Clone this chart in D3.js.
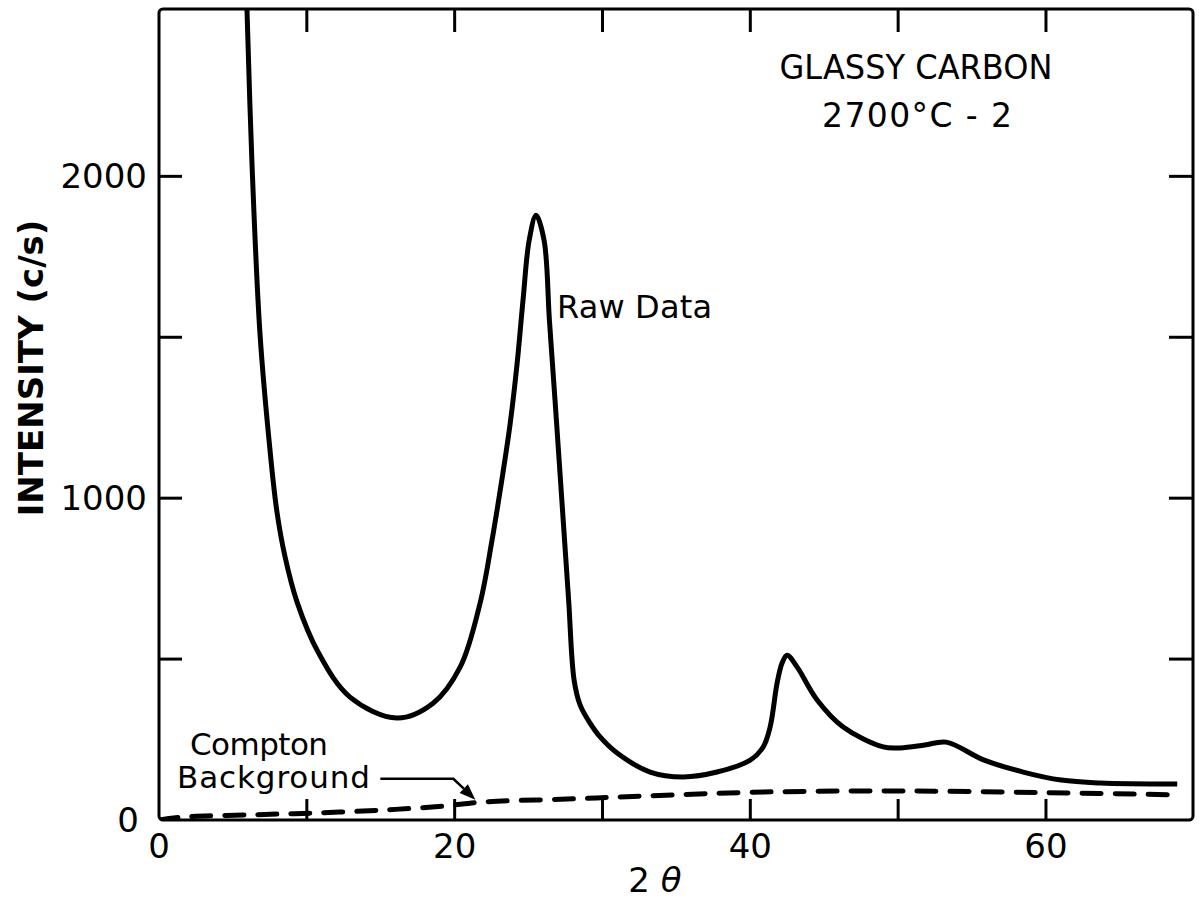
<!DOCTYPE html>
<html>
<head>
<meta charset="utf-8">
<script src="https://cdn.jsdelivr.net/npm/d3@7"></script>
<style>
  html, body { margin: 0; background: #fff; }
  svg { display: block; }
  text { font-family: "DejaVu Sans", sans-serif; fill: #000; }
</style>
</head>
<body>
<svg id="chart" width="1199" height="902"></svg>
<script>
// Diffraction scan of glassy carbon (2700 °C), intensity in counts per second vs 2θ
const rawTheta = [5.95, 6.29, 6.83, 7.51, 7.98, 8.53, 9.34, 10.76, 12.92, 16.10, 18.54, 20.37,
  21.72, 22.53, 23.21, 23.75, 24.22, 24.63, 25.04, 25.51, 26.05, 26.41, 26.79, 27.25, 27.71,
  28.08, 28.49, 29.16, 29.84, 30.99, 33.22, 35.45, 37.75, 39.99, 40.87, 41.34, 41.81,
  42.15, 42.49, 43.17, 44.52, 46.28, 48.99, 50.14, 51.80, 53.25, 55.82, 58.46, 61.03, 63.67, 68.88];
const rawIntensity = [2520, 2040, 1512, 1149, 957, 817, 677, 522, 382, 317, 363, 475,
  674, 870, 1062, 1230, 1416, 1618, 1801, 1879, 1801, 1553, 1304, 994, 683,
  435, 357, 301, 258, 208, 149, 134, 149, 186, 227, 289, 425,
  488, 512, 475, 373, 289, 227, 224, 233, 242, 186, 149, 124, 115, 112];

const comptonTheta = [0, 1.6, 6.2, 10.7, 15.2, 19.2, 21.9, 27.6, 33.0, 40.9, 50.1, 60.0, 68.9];
const comptonIntensity = [0, 9, 16, 22, 31, 43, 56, 65, 75, 87, 90, 85, 78];

const xTicks = [10, 20, 30, 40, 50, 60];
const xTickLabels = [0, 20, 40, 60];
const yTicks = [500, 1000, 1500, 2000];
const yTickLabels = [0, 1000, 2000];

const svg = d3.select("#chart");
const frame = { left: 159, right: 1193, top: 9, bottom: 820 };

const x = d3.scaleLinear().domain([0, 70]).range([frame.left, frame.right + 0.8]);
const y = d3.scaleLinear().domain([0, 2520]).range([frame.bottom, frame.top]);

svg.append("defs").append("clipPath").attr("id", "plot-clip")
  .append("rect")
  .attr("x", frame.left).attr("y", frame.top)
  .attr("width", frame.right - frame.left).attr("height", frame.bottom - frame.top);

// Frame
svg.append("rect")
  .attr("x", frame.left).attr("y", frame.top)
  .attr("width", frame.right - frame.left).attr("height", frame.bottom - frame.top)
  .attr("rx", 4)
  .attr("fill", "none").attr("stroke", "#000").attr("stroke-width", 3);

// Inward ticks on all four sides
const tickG = svg.append("g").attr("stroke", "#000").attr("stroke-width", 3);
xTicks.forEach(v => {
  tickG.append("line").attr("x1", x(v)).attr("x2", x(v))
    .attr("y1", frame.bottom).attr("y2", frame.bottom - 21);
  tickG.append("line").attr("x1", x(v)).attr("x2", x(v))
    .attr("y1", frame.top).attr("y2", frame.top + 23);
});
yTicks.forEach(v => {
  tickG.append("line").attr("x1", frame.left).attr("x2", frame.left + 23)
    .attr("y1", y(v)).attr("y2", y(v));
  tickG.append("line").attr("x1", frame.right).attr("x2", frame.right - 24)
    .attr("y1", y(v)).attr("y2", y(v));
});

// Tick labels
svg.append("g").selectAll("text").data(xTickLabels).join("text")
  .attr("x", d => x(d)).attr("y", 858)
  .attr("text-anchor", "middle")
  .style("font-size", "34px")
  .text(d => d);

svg.append("g").selectAll("text").data(yTickLabels).join("text")
  .attr("x", d => d === 0 ? 139 : 147)
  .attr("y", d => y(d) + 12)
  .attr("text-anchor", "end")
  .style("font-size", "34px")
  .text(d => d);

// Axis titles
svg.append("text")
  .attr("transform", "translate(43,368) rotate(-90)")
  .attr("text-anchor", "middle")
  .style("font-size", "34px").style("font-weight", "bold")
  .text("INTENSITY (c/s)");

const xt = svg.append("text")
  .attr("x", 655).attr("y", 892)
  .attr("text-anchor", "middle")
  .style("font-size", "34px");
xt.append("tspan").text("2 ");
xt.append("tspan").style("font-style", "italic").text("θ");

// Sample caption
svg.append("text").attr("x", 916).attr("y", 79).attr("text-anchor", "middle")
  .style("font-size", "33px").attr("textLength", 273).attr("lengthAdjust", "spacingAndGlyphs")
  .text("GLASSY CARBON");
svg.append("text").attr("x", 917).attr("y", 127).attr("text-anchor", "middle")
  .style("font-size", "33px").attr("textLength", 190).attr("lengthAdjust", "spacing")
  .text("2700°C - 2");

// Curves
const plot = svg.append("g").attr("clip-path", "url(#plot-clip)");

const rawPoints = rawTheta.map((t, i) => [t, rawIntensity[i]]);
const comptonPoints = comptonTheta.map((t, i) => [t, comptonIntensity[i]]);

const line = d3.line()
  .x(d => x(d[0])).y(d => y(d[1]))
  .curve(d3.curveCatmullRom.alpha(0.5));

plot.append("path")
  .datum(comptonPoints)
  .attr("d", line)
  .attr("fill", "none").attr("stroke", "#000")
  .attr("stroke-width", 5).attr("stroke-linecap", "round")
  .attr("stroke-dasharray", "19,14");

plot.append("path")
  .datum(rawPoints)
  .attr("d", line)
  .attr("fill", "none").attr("stroke", "#000")
  .attr("stroke-width", 5).attr("stroke-linejoin", "round");

// Annotations
svg.append("text").attr("x", 557).attr("y", 318)
  .style("font-size", "32px").attr("textLength", 155).attr("lengthAdjust", "spacing")
  .text("Raw Data");

svg.append("text").attr("x", 190).attr("y", 755)
  .style("font-size", "31px").attr("textLength", 138).attr("lengthAdjust", "spacing")
  .text("Compton");
svg.append("text").attr("x", 177).attr("y", 788)
  .style("font-size", "31px").attr("textLength", 193).attr("lengthAdjust", "spacing")
  .text("Background");

// Leader arrow to the Compton background line
const tipTheta = 21.4;
const tipVal = d3.interpolateNumber(43, 56)((tipTheta - 19.2) / (21.9 - 19.2));
const tip = [x(tipTheta), y(tipVal) - 3];
const knee = [tip[0] - 22, tip[1] - 21];
const start = [knee[0] - 73, knee[1]];
const ang = Math.atan2(tip[1] - knee[1], tip[0] - knee[0]);
const headLen = 16, headHalf = 6;
const base = [tip[0] - headLen * Math.cos(ang), tip[1] - headLen * Math.sin(ang)];
svg.append("path")
  .attr("d", `M${start[0]},${start[1]} L${knee[0]},${knee[1]} L${base[0]},${base[1]}`)
  .attr("fill", "none").attr("stroke", "#000").attr("stroke-width", 2.5);
svg.append("path")
  .attr("d", `M${tip[0]},${tip[1]}
    L${base[0] - headHalf * Math.sin(ang)},${base[1] + headHalf * Math.cos(ang)}
    L${base[0] + headHalf * Math.sin(ang)},${base[1] - headHalf * Math.cos(ang)} Z`)
  .attr("fill", "#000");
</script>
</body>
</html>
